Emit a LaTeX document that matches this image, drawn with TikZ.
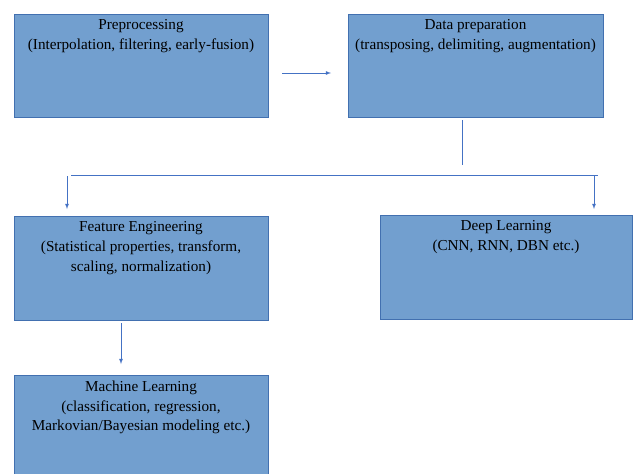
\documentclass[tikz,border=0pt]{standalone}
\usepackage{fontspec}
\setmainfont{Liberation Serif}
\definecolor{boxfill}{RGB}{114,159,207}
\definecolor{boxline}{RGB}{66,112,176}
\definecolor{linkblue}{RGB}{68,114,196}
\begin{document}
\begin{tikzpicture}[x=1pt,y=-1pt,
    stage/.style={draw=boxline,fill=boxfill,line width=0.9pt,minimum width=254pt,minimum height=103pt,inner sep=0pt},
    stagetext/.style={anchor=north,align=center,inner sep=0pt,font=\fontsize{15.2}{19.8}\selectfont},
    link/.style={linkblue,line width=0.8pt,->,>=latex}]
      \useasboundingbox (0,0) rectangle (633,474);
      \node[stage] (pre) at (141,65.5) {};
      \node[stage,minimum width=255pt] (prep) at (475.5,65.5) {};
      \node[stage,minimum height=104pt] (fe) at (141,268) {};
      \node[stage,minimum width=252pt,minimum height=104pt] (dl) at (506,267) {};
      \node[stage,minimum height=104pt] (ml) at (141,427) {};
      \node[stagetext] (pretext) at ([yshift=-6pt]pre.north) {Preprocessing\\(Interpolation, filtering, early-fusion)};
      \node[stagetext] (preptext) at ([yshift=-6pt]prep.north) {Data preparation\\(transposing, delimiting, augmentation)};
      \node[stagetext] (fetext) at ([yshift=-6pt]fe.north) {Feature Engineering\\(Statistical properties, transform,\\scaling, normalization)};
      \node[stagetext] (dltext) at ([yshift=-6pt]dl.north) {Deep Learning\\(CNN, RNN, DBN etc.)};
      \node[stagetext] (mltext) at ([yshift=-6pt]ml.north) {Machine Learning\\(classification, regression,\\Markovian/Bayesian modeling etc.)};
      % free standing links
      \coordinate (preout) at (282,73);
      \coordinate (prepin) at (331,73);
      \coordinate (splittop) at (462,120);
      \coordinate (splitbot) at (462,165);
      \coordinate (busleft) at (71,175);
      \coordinate (busright) at (598,175);
      \coordinate (fein) at (67,176);
      \coordinate (fetop) at (67,209);
      \coordinate (dlin) at (594,175);
      \coordinate (dltop) at (594,209);
      \coordinate (feout) at (121,323);
      \coordinate (mlin) at (121,364);
      \draw[link] (preout) -- (prepin);
      \draw[linkblue,line width=0.8pt] (splittop) -- (splitbot);
      \draw[linkblue,line width=0.8pt] (busleft) -- (busright);
      \draw[link] (fein) -- (fetop);
      \draw[link] (dlin) -- (dltop);
      \draw[link] (feout) -- (mlin);
\end{tikzpicture}
\end{document}
